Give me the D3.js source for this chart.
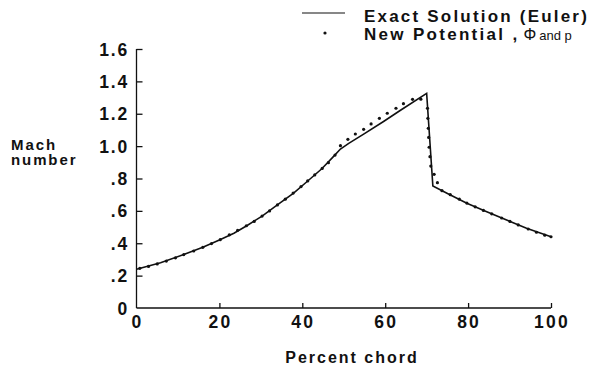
<!DOCTYPE html>
<html>
<head>
<meta charset="utf-8">
<script src="https://cdn.jsdelivr.net/npm/d3@7"></script>
<style>
body{margin:0;background:#fff;}
text{font-family:"Liberation Sans",Arial,sans-serif;fill:#111;}
</style>
</head>
<body>
<div id="plot"></div>
<script>
// exact (Euler) solution, percent chord vs Mach number
var eulerX = [0, 5.8, 11.4, 16, 20, 23.5, 26.7, 30.3, 33.9, 37.9, 41.1, 44.7, 47.5, 49.2, 51.2, 54.8, 59.6, 63.6, 70, 71.5, 74.9, 79.7, 84.5, 89.3, 94.1, 100];
var eulerM = [0.24, 0.28, 0.33, 0.375, 0.42, 0.462, 0.51, 0.568, 0.635, 0.71, 0.78, 0.86, 0.935, 0.982, 1.017, 1.074, 1.152, 1.22, 1.326, 0.754, 0.709, 0.647, 0.595, 0.544, 0.492, 0.44];

// new potential, phi and p
var potX = [0.8, 2.9, 5.0, 7.2, 9.4, 11.4, 13.8, 16.0, 18.1, 20.2, 22.4, 24.4, 26.5, 28.4, 30.3, 32.1, 34.0, 35.9, 37.8, 39.7, 41.3, 43.0, 44.8, 46.3, 47.9,
  49.2, 51.0, 52.8, 54.8, 56.6, 58.6, 60.5, 62.6, 64.4, 66.6, 68.6,
  70.2, 70.3, 70.4, 70.5, 70.6, 70.8, 71.0, 71.8, 72.6,
  73.7, 75.7, 77.9, 79.7, 81.7, 83.7, 85.7, 88.1, 90.1, 92.1, 94.5, 96.5, 98.5, 100];
var potM = [0.245, 0.257, 0.272, 0.29, 0.31, 0.33, 0.352, 0.375, 0.398, 0.422, 0.452, 0.48, 0.508, 0.535, 0.568, 0.60, 0.637, 0.672, 0.71, 0.75, 0.785, 0.822, 0.862, 0.898, 0.945,
  1.003, 1.042, 1.075, 1.104, 1.137, 1.172, 1.203, 1.234, 1.262, 1.289, 1.29,
  1.234, 1.172, 1.110, 1.054, 0.993, 0.935, 0.877, 0.826, 0.774,
  0.725, 0.70, 0.672, 0.648, 0.625, 0.603, 0.582, 0.556, 0.535, 0.513, 0.488, 0.468, 0.45, 0.44];

var xTicks = [0, 20, 40, 60, 80, 100];
var yTicks = [0, 0.2, 0.4, 0.6, 0.8, 1.0, 1.2, 1.4, 1.6];
var yLabels = ['0', '.2', '.4', '.6', '.8', '1.0', '1.2', '1.4', '1.6'];

var W = 591, H = 369;
var svg = d3.select('#plot').append('svg').attr('width', W).attr('height', H);

var x = d3.scaleLinear().domain([0, 100]).range([136.5, 551]);
var y = d3.scaleLinear().domain([0, 1.6]).range([308, 49]);

// axes, ticks point inward
svg.append('g').attr('transform', 'translate(0,308)')
  .call(d3.axisTop(x).tickValues(xTicks.slice(1)).tickSize(5).tickFormat(''));
svg.append('g').attr('transform', 'translate(136.5,0)')
  .call(d3.axisRight(y).tickValues(yTicks.slice(1)).tickSize(6).tickFormat(''));
svg.selectAll('.domain').remove();
svg.selectAll('.tick line').attr('stroke', '#111').attr('stroke-width', 1.3);
svg.append('line').attr('x1', x(0)).attr('x2', x(100)).attr('y1', y(0)).attr('y2', y(0))
  .attr('stroke', '#111').attr('stroke-width', 1.3);
svg.append('line').attr('x1', x(0)).attr('x2', x(0)).attr('y1', y(0)).attr('y2', y(1.6))
  .attr('stroke', '#111').attr('stroke-width', 1.3);

// tick labels
svg.selectAll('.ylab').data(yTicks).enter().append('text')
  .attr('x', 129).attr('y', function(d){ return y(d) + 6.5; })
  .attr('text-anchor', 'end').attr('font-size', 17.5).attr('font-weight', 'bold')
  .attr('letter-spacing', 1.8)
  .text(function(d, i){ return yLabels[i]; });
svg.selectAll('.xlab').data(xTicks).enter().append('text')
  .attr('x', function(d){ return x(d) + 1; }).attr('y', 328)
  .attr('text-anchor', 'middle').attr('font-size', 17.5).attr('font-weight', 'bold')
  .attr('letter-spacing', 2.2)
  .text(function(d){ return d; });

// axis titles
svg.append('text').attr('x', 352).attr('y', 363).attr('text-anchor', 'middle')
  .attr('font-size', 16).attr('font-weight', 'bold').attr('letter-spacing', 2)
  .text('Percent chord');
var yt = svg.append('text').attr('font-size', 15).attr('font-weight', 'bold').attr('letter-spacing', 1.9);
yt.append('tspan').attr('x', 11).attr('y', 150).text('Mach');
yt.append('tspan').attr('x', 11).attr('y', 165).text('number');

// exact solution line
var line = d3.line().x(function(d){ return x(d[0]); }).y(function(d){ return y(d[1]); });
svg.append('path').datum(d3.zip(eulerX, eulerM)).attr('d', line)
  .attr('fill', 'none').attr('stroke', '#111').attr('stroke-width', 1.6);

// potential dots
svg.selectAll('.pt').data(d3.zip(potX, potM)).enter().append('circle')
  .attr('cx', function(d){ return x(d[0]); }).attr('cy', function(d){ return y(d[1]); })
  .attr('r', 1.6).attr('fill', '#111');

// legend
svg.append('line').attr('x1', 302).attr('x2', 345).attr('y1', 13).attr('y2', 13)
  .attr('stroke', '#111').attr('stroke-width', 1.2);
svg.append('text').attr('x', 364).attr('y', 21.5).attr('font-size', 17).attr('font-weight', 'bold')
  .attr('letter-spacing', 2.2).text('Exact Solution (Euler)');
svg.append('circle').attr('cx', 325).attr('cy', 33).attr('r', 1.6).attr('fill', '#111');
var t2 = svg.append('text').attr('x', 364).attr('y', 40).attr('font-size', 17).attr('font-weight', 'bold')
  .attr('letter-spacing', 2.3);
t2.append('tspan').text('New Potential ,');
t2.append('tspan').attr('font-weight', 'normal').attr('font-size', 16).attr('letter-spacing', 0)
  .attr('dx', 4).text('Φ');
t2.append('tspan').attr('font-weight', 'normal').attr('font-size', 13).attr('letter-spacing', 0)
  .attr('dx', 3).text('and p');
</script>
</body>
</html>
